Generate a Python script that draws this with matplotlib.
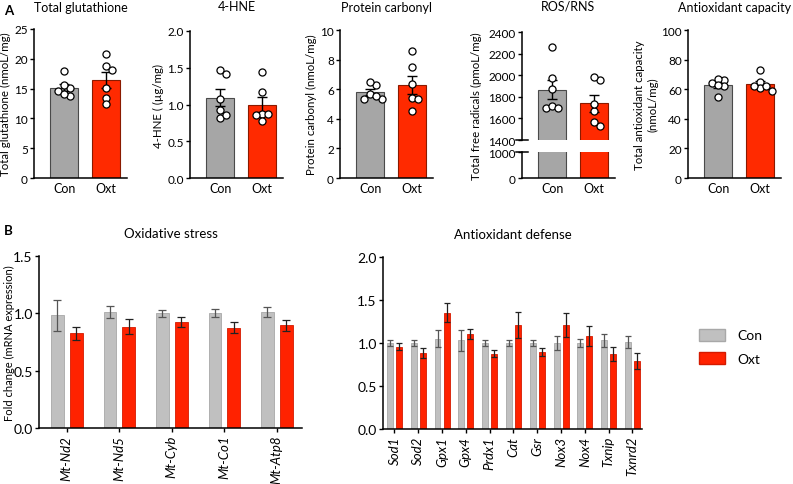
import numpy as np
import matplotlib.pyplot as plt
from matplotlib.patches import Patch

plt.rcParams['font.family'] = ['Lato', 'DejaVu Sans']
plt.rcParams['axes.linewidth'] = 1.1

W, H = 793, 485

groups = ['Con', 'Oxt']

# panel A: individual animals
glut_con = [18.0, 15.1, 14.6, 15.6, 13.7, 14.1]
glut_oxt = [20.8, 18.75, 18.1, 15.1, 13.45, 12.4]
hne_con = [1.47, 1.42, 1.08, 0.92, 0.82, 0.86]
hne_oxt = [1.44, 1.17, 0.87, 0.87, 0.86, 0.77]
carb_con = [6.28, 6.5, 5.34, 5.7, 5.34, 5.54]
carb_oxt = [8.56, 7.48, 6.35, 5.43, 5.34, 4.5]
ros_con = [2264, 1971, 1872, 1693, 1712, 1693]
ros_oxt = [1958, 1986, 1668, 1730, 1532, 1569]
tac_con = [64, 66.2, 66.9, 62, 62.8, 54.5]
tac_oxt = [73, 65, 60.5, 62, 62, 59]

# panel B: fold change, mean and SEM
ox_genes = ['Mt-Nd2', 'Mt-Nd5', 'Mt-Cyb', 'Mt-Co1', 'Mt-Atp8']
ox_con = [0.985, 1.01, 1.0, 1.0, 1.01]
ox_con_err = [0.135, 0.05, 0.03, 0.035, 0.045]
ox_oxt = [0.825, 0.885, 0.925, 0.875, 0.895]
ox_oxt_err = [0.06, 0.065, 0.045, 0.05, 0.045]

ad_genes = ['Sod1', 'Sod2', 'Gpx1', 'Gpx4', 'Prdx1', 'Cat', 'Gsr', 'Nox3', 'Nox4', 'Txnip', 'Txnrd2']
ad_con = [1.0, 1.0, 1.05, 1.03, 1.0, 1.0, 1.0, 1.0, 1.0, 1.03, 1.01]
ad_con_err = [0.03, 0.03, 0.10, 0.12, 0.04, 0.04, 0.03, 0.08, 0.05, 0.08, 0.07]
ad_oxt = [0.955, 0.885, 1.35, 1.105, 0.875, 1.21, 0.895, 1.21, 1.08, 0.875, 0.79]
ad_oxt_err = [0.04, 0.055, 0.11, 0.06, 0.04, 0.15, 0.05, 0.14, 0.12, 0.08, 0.09]

GREY_A, RED_A = '#a6a6a6', '#ff2a00'
GREY_B, RED_B = '#c0c0c0', '#ff2200'

FS_TICK = 8.5
FS_LAB = 8.3
FS_TITLE = 9


def box(l, t, r, b):
    return [l / W, 1 - b / H, (r - l) / W, (b - t) / H]


def swarm(vals, ypx, xpx=42, d=7.5):
    # simple beeswarm: place points so circles barely overlap
    order = np.argsort(vals)[::-1]
    placed = []
    xs = np.zeros(len(vals))
    for i in order:
        y = vals[i] * ypx
        for k in [0, 1, -1, 2, -2, 3, -3]:
            x = k * d * 0.8
            if all((x - px) ** 2 + (y - py) ** 2 >= (0.8 * d) ** 2 for px, py in placed):
                break
        placed.append((x, y))
        xs[i] = x / xpx
    return xs


def style(ax):
    ax.spines['top'].set_visible(False)
    ax.spines['right'].set_visible(False)
    ax.tick_params(direction='out', length=3, width=1, labelsize=FS_TICK, pad=1.5)


def top_panel(ax, con, oxt, ypx, draw_pts=True):
    means = [np.mean(con), np.mean(oxt)]
    sems = [np.std(con, ddof=1) / np.sqrt(len(con)), np.std(oxt, ddof=1) / np.sqrt(len(oxt))]
    ax.bar([0, 1], means, width=0.66, color=[GREY_A, RED_A],
           edgecolor=['#4a4a4a', '#8a1a00'], linewidth=0.8, zorder=2)
    if draw_pts:
        ax.errorbar([0, 1], means, yerr=sems, fmt='none', ecolor='black',
                    elinewidth=1, capsize=3.6, capthick=1, zorder=3)
        for i, v in enumerate([con, oxt]):
            xs = swarm(np.array(v, float), ypx)
            ax.scatter(i + xs, v, s=26, facecolor='white', edgecolor='black',
                       linewidth=0.9, zorder=4)
    ax.set_xlim(-0.72, 1.5)
    style(ax)
    ax.set_xticks([0, 1])
    ax.set_xticklabels(groups, fontsize=FS_TICK + 0.5)
    ax.tick_params(axis='x', length=0, pad=3)


fig = plt.figure(figsize=(W / 100, H / 100), dpi=100)

# ---- A ----
ax1 = fig.add_axes(box(34, 30, 127, 179))
top_panel(ax1, glut_con, glut_oxt, 149 / 25)
ax1.set_ylim(0, 25)
ax1.set_yticks(range(0, 26, 5))
ax1.set_ylabel('Total glutathione (nmoL/mg)', fontsize=FS_LAB, labelpad=2)
ax1.set_title('Total glutathione', fontsize=FS_TITLE, pad=13)

ax2 = fig.add_axes(box(190, 32, 283, 179))
top_panel(ax2, hne_con, hne_oxt, 147 / 2.0)
ax2.set_ylim(0, 2.0)
ax2.set_yticks(np.arange(0, 2.01, 0.5))
ax2.yaxis.set_major_formatter('{x:.1f}')
ax2.set_ylabel('4-HNE ( (µg/mg)', fontsize=FS_LAB, labelpad=2)
ax2.set_title('4-HNE', fontsize=FS_TITLE, pad=15)

ax3 = fig.add_axes(box(340, 31, 433, 179))
top_panel(ax3, carb_con, carb_oxt, 148 / 10)
ax3.set_ylim(0, 10)
ax3.set_yticks(range(0, 11, 2))
ax3.set_ylabel('Protein carbonyl (nmoL/mg)', fontsize=FS_LAB, labelpad=2)
ax3.set_title('Protein carbonyl', fontsize=FS_TITLE, pad=14)

# ROS/RNS with broken axis
ax4 = fig.add_axes(box(522, 33, 615, 141))
top_panel(ax4, ros_con, ros_oxt, 108 / 1000)
ax4.set_ylim(1400, 2400)
ax4.set_yticks(range(1400, 2401, 200))
ax4.spines['bottom'].set_visible(False)
ax4.set_xticks([])
ax4.set_title('ROS/RNS', fontsize=FS_TITLE, pad=16)
ax4b = fig.add_axes(box(522, 153, 615, 179))
top_panel(ax4b, ros_con, ros_oxt, 0, draw_pts=False)
ax4b.set_ylim(0, 1000)
ax4b.set_yticks([0, 1000])
for a, yv in [(ax4, 0), (ax4b, 1)]:
    a.plot([-0.06, 0.06], [yv, yv], transform=a.transAxes, color='black',
           lw=1.1, clip_on=False)
fig.text(476 / W, 1 - 106 / H, 'Total free radicals (pmoL/mg)', rotation=90,
         ha='center', va='center', fontsize=FS_LAB)

ax5 = fig.add_axes(box(688, 31, 781, 179))
top_panel(ax5, tac_con, tac_oxt, 148 / 100)
ax5.set_ylim(0, 100)
ax5.set_yticks(range(0, 101, 20))
ax5.set_ylabel('Total antioxidant capacity\n(nmoL/mg)', fontsize=FS_LAB, labelpad=2)
ax5.set_title('Antioxidant capacity', fontsize=FS_TITLE, pad=14)

# ---- B ----
def bottom_panel(ax, genes, con, con_err, oxt, oxt_err, off, bw, cap):
    x = np.arange(len(genes))
    ax.bar(x - off, con, width=bw, color=GREY_B, edgecolor='#a8a8a8', linewidth=0.6, zorder=2)
    ax.bar(x + off, oxt, width=bw, color=RED_B, edgecolor='#d41a00', linewidth=0.6, zorder=2)
    ax.errorbar(x - off, con, yerr=con_err, fmt='none', ecolor='#555555',
                elinewidth=0.9, capsize=cap, capthick=0.9, zorder=3)
    ax.errorbar(x + off, oxt, yerr=oxt_err, fmt='none', ecolor='#222222',
                elinewidth=0.9, capsize=cap, capthick=0.9, zorder=3)
    style(ax)
    ax.tick_params(axis='y', labelsize=10)
    ax.set_xticks(x)
    ax.set_xticklabels(genes, rotation=90, fontstyle='italic', fontsize=9.5)
    ax.tick_params(axis='x', length=3, pad=2)


ax6 = fig.add_axes(box(39, 257, 302, 429))
bottom_panel(ax6, ox_genes, ox_con, ox_con_err, ox_oxt, ox_oxt_err, 0.18, 0.24, 3)
ax6.set_xlim(-0.53, 4.48)
ax6.set_ylim(0, 1.5)
ax6.set_yticks(np.arange(0, 1.51, 0.5))
ax6.yaxis.set_major_formatter('{x:.1f}')
ax6.set_title('Oxidative stress', fontsize=9.5, pad=14)
fig.text(9 / W, 1 - 343 / H, 'Fold change (mRNA expression)', rotation=90,
         ha='center', va='center', fontsize=8)

ax7 = fig.add_axes(box(383, 258, 642, 430))
bottom_panel(ax7, ad_genes, ad_con, ad_con_err, ad_oxt, ad_oxt_err, 0.19, 0.25, 2.2)
ax7.set_xlim(-0.48, 10.4)
ax7.set_ylim(0, 2.0)
ax7.set_yticks(np.arange(0, 2.01, 0.5))
ax7.yaxis.set_major_formatter('{x:.1f}')
ax7.set_title('Antioxidant defense', fontsize=9.5, pad=14)

fig.legend(handles=[Patch(facecolor=GREY_B, edgecolor='#a8a8a8', label='Con'),
                    Patch(facecolor=RED_B, edgecolor='#d41a00', label='Oxt')],
           loc='upper left', bbox_to_anchor=(686 / W, 1 - 317 / H), frameon=False,
           fontsize=10, handlelength=1.9, handleheight=1.0, labelspacing=0.75,
           handletextpad=0.9)

fig.text(4 / W, 1 - 11 / H, 'A', fontsize=9.5, fontweight='bold', va='center')
fig.text(4 / W, 1 - 231 / H, 'B', fontsize=9.5, fontweight='bold', va='center')

fig.savefig('out.png', dpi=100)
